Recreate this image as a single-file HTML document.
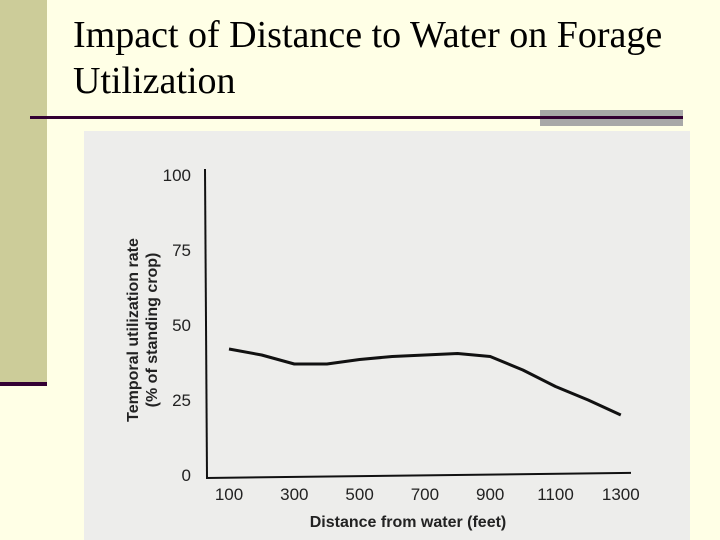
<!DOCTYPE html>
<html><head><meta charset="utf-8"><style>
body{margin:0;width:720px;height:540px;background:#ffffe6;position:relative;overflow:hidden;font-family:"Liberation Sans",sans-serif}
</style></head><body>
<div style="position:absolute;left:0;top:0;width:47px;height:383px;background:#cccc99"></div>
<div style="position:absolute;left:0;top:382px;width:47px;height:4px;background:#330033"></div>
<div style="position:absolute;left:73px;top:12px;font-family:'Liberation Serif',serif;font-size:38px;line-height:46px;color:#000">Impact of Distance to Water on Forage<br>Utilization</div>
<div style="position:absolute;left:540px;top:110px;width:143px;height:16px;background:#a8a8a8"></div>
<div style="position:absolute;left:30px;top:116px;width:653px;height:3px;background:#330033"></div>
<svg style="position:absolute;left:0;top:0" width="720" height="540">
<rect x="84" y="131" width="606" height="409" fill="#ededeb"/>
<g id="g"></g>
<text transform="translate(138,330) rotate(-90)" text-anchor="middle" font-size="16" font-weight="bold" fill="#222"><tspan x="0" dy="0">Temporal utilization rate</tspan><tspan x="0" dy="19">(% of standing crop)</tspan></text>
<text x="408" y="527" text-anchor="middle" font-size="16" font-weight="bold" fill="#222">Distance from water (feet)</text>
</svg>
<script>
const xTicks=[100,300,500,700,900,1100,1300];
const yTicks=[0,25,50,75,100];
const distance=[100,200,300,400,500,600,700,800,900,1000,1100,1200,1300];
const utilization=[42,40,37,37,38.5,39.5,40,40.5,39.5,35,29.5,25,20];
const X=v=>229+(v-100)*65.3/200;
const Y=v=>475-v*3;
const ns="http://www.w3.org/2000/svg",g=document.getElementById('g');
function mk(t,a,txt){const e=document.createElementNS(ns,t);for(const k in a)e.setAttribute(k,a[k]);if(txt!==undefined)e.textContent=txt;g.appendChild(e);return e;}
let e=mk('line',{x1:205,y1:Y(102),x2:207,y2:Y(-1),stroke:'#111','stroke-width':2});


e=mk('line',{x1:206,y1:Y(-1),x2:631,y2:Y(0.7),stroke:'#111','stroke-width':2});


yTicks.forEach(v=>{const t=mk('text',{x:191,y:Y(v)+6,'text-anchor':'end','font-size':17,fill:'#222'},v);

});
xTicks.forEach(v=>{const t=mk('text',{x:X(v),y:500,'text-anchor':'middle','font-size':17,fill:'#222'},v);

});
const p=mk('polyline',{points:distance.map((d,i)=>X(d)+','+Y(utilization[i])).join(' '),fill:'none',stroke:'#111','stroke-width':3,'stroke-linejoin':'round'});


</script>
</body></html>
